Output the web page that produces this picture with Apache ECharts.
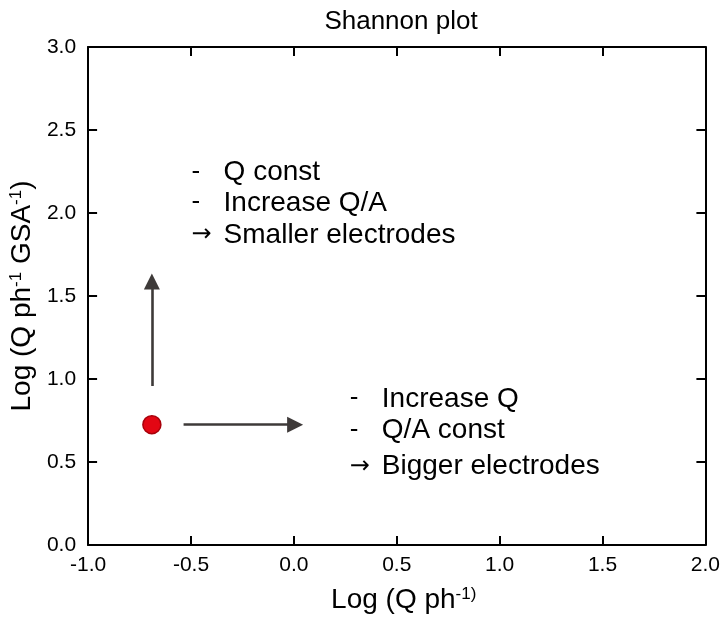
<!DOCTYPE html>
<html>
<head>
<meta charset="utf-8">
<script src="https://cdn.jsdelivr.net/npm/echarts@6/dist/echarts.min.js"></script>
<style>html,body{margin:0;padding:0;background:#fff}#c{width:723px;height:619px}</style>
</head>
<body>
<div id="c"></div>
<script>
var xTicks = ['-1.0','-0.5','0.0','0.5','1.0','1.5','2.0'];
var yTicks = ['0.0','0.5','1.0','1.5','2.0','2.5','3.0'];
var pointData = [[-0.69, 0.725]];
var arrowUp = [[-0.69, 0.958], [-0.69, 1.587]];
var arrowRight = [[-0.536, 0.725], [0.006, 0.725]];
var block1 = [
  {pos: [-0.497, 2.245], mark: '-', text: 'Q const'},
  {pos: [-0.497, 2.060], mark: '-', text: 'Increase Q/A'},
  {pos: [-0.497, 1.868], mark: '\u2192', text: 'Smaller electrodes'}
];
var block2 = [
  {pos: [0.272, 0.880], mark: '-', text: 'Increase Q'},
  {pos: [0.272, 0.689], mark: '-', text: 'Q/A const'},
  {pos: [0.272, 0.473], mark: '\u2192', text: 'Bigger electrodes'}
];

var FONT = 'Liberation Sans, Arial, sans-serif';
var chart = echarts.init(document.getElementById('c'));
var textData = block1.concat(block2).map(function (d) {
  return {value: d.pos, mark: d.mark, txt: d.text};
});
var nameRich = {
  n: {fontFamily: FONT, fontSize: 28, color: '#000'},
  s: {fontFamily: FONT, fontSize: 17, color: '#000', verticalAlign: 'top'}
};
var axisCommon = {
  type: 'value', min: -1, max: 2, interval: 0.5,
  axisLine: {show: true, onZero: false, lineStyle: {color: '#000', width: 2}},
  axisTick: {show: true, inside: true, length: 9, lineStyle: {color: '#000', width: 2}},
  splitLine: {show: false}
};
chart.setOption({
  animation: false,
  title: {text: 'Shannon plot', left: 396, top: 4, textAlign: 'center',
    textStyle: {fontFamily: FONT, fontSize: 26, fontWeight: 'normal', color: '#000'}},
  grid: {left: 87, right: 16, top: 47, bottom: 71},
  xAxis: [
    Object.assign({}, axisCommon, {
      position: 'bottom',
      name: '{n|Log (Q ph}{s|-1)}', nameLocation: 'middle', nameGap: 41,
      nameTextStyle: {rich: nameRich, padding: [0, 0, 0, 14]},
      axisLabel: {fontFamily: FONT, fontSize: 21, color: '#000', margin: 10,
        formatter: function (v) { return xTicks[Math.round((v + 1) * 2)]; }}
    }),
    Object.assign({}, axisCommon, {position: 'top', axisLabel: {show: false}})
  ],
  yAxis: [
    Object.assign({}, axisCommon, {
      min: 0, max: 3, position: 'left',
      name: '{n|Log (Q ph}{s|-1}{n| GSA}{s|-1}{n|)}', nameLocation: 'middle', nameGap: 42,
      nameTextStyle: {rich: nameRich},
      axisLabel: {fontFamily: FONT, fontSize: 21, color: '#000', margin: 12,
        formatter: function (v) { return yTicks[Math.round(v * 2)]; }}
    }),
    Object.assign({}, axisCommon, {min: 0, max: 3, position: 'right', axisLabel: {show: false}})
  ],
  series: [
    {
      type: 'lines', coordinateSystem: 'cartesian2d', xAxisIndex: 0, yAxisIndex: 0,
      symbol: ['none', 'triangle'], symbolSize: [15, 16],
      lineStyle: {color: '#3e3a39', width: 2.6, opacity: 1},
      itemStyle: {color: '#3e3a39'},
      data: [{coords: arrowUp}, {coords: arrowRight}],
      silent: true, z: 3
    },
    {
      type: 'scatter', xAxisIndex: 0, yAxisIndex: 0,
      symbol: 'circle', symbolSize: 18,
      itemStyle: {color: '#e30613', borderColor: '#a8000a', borderWidth: 1.5, opacity: 1},
      data: pointData, z: 4
    },
    {
      type: 'scatter', xAxisIndex: 0, yAxisIndex: 0, symbolSize: 0,
      itemStyle: {opacity: 1},
      data: textData, silent: true,
      label: {show: true, position: 'right', distance: 0, color: '#000', opacity: 1,
        formatter: function (p) { return '{m|' + p.data.mark + '}{t|' + p.data.txt + '}'; },
        rich: {
          m: {fontFamily: 'DejaVu Sans, sans-serif', fontSize: 24, color: '#000', width: 32},
          t: {fontFamily: FONT, fontSize: 28, color: '#000'}
        }
      }
    }
  ]
});
</script>
</body>
</html>
